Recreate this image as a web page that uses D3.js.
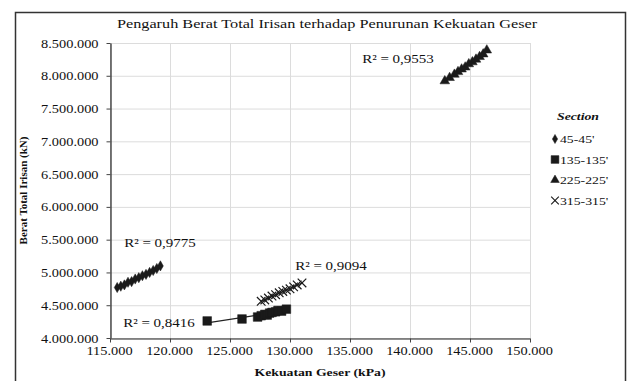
<!DOCTYPE html>
<html>
<head>
<meta charset="utf-8">
<script src="https://cdn.jsdelivr.net/npm/d3@7"></script>
<style>
  html, body { margin: 0; padding: 0; background: #fff; }
  svg { display: block; }
  text { font-family: "Liberation Serif", "Times New Roman", serif; fill: #111; }
</style>
</head>
<body>
<svg id="chart" width="630" height="381"></svg>
<script>
// Shear strength (kPa) and total slice weight (kN) per section
const sections = ["45-45'", "135-135'", "225-225'", "315-315'"];

const shear45 = [115600, 115900, 116200, 116500, 116800, 117100, 117400, 117700, 118000, 118300, 118600, 118900, 119200];
const weight45 = [4770000, 4790000, 4810000, 4850000, 4860000, 4900000, 4920000, 4950000, 4970000, 5000000, 5030000, 5060000, 5100000];

const shear135 = [123100, 126000, 127300, 127600, 127900, 128100, 128300, 128500, 128800, 129000, 129300, 129700];
const weight135 = [4260000, 4290000, 4320000, 4340000, 4360000, 4350000, 4380000, 4390000, 4400000, 4420000, 4410000, 4440000];

const shear225 = [142900, 143300, 143700, 144000, 144300, 144600, 144900, 145200, 145500, 145800, 146100, 146400];
const weight225 = [7920000, 7970000, 8020000, 8060000, 8100000, 8130000, 8180000, 8210000, 8250000, 8290000, 8330000, 8390000];

const shear315 = [127600, 127900, 128200, 128500, 128800, 129100, 129400, 129700, 130000, 130300, 130600, 131000];
const weight315 = [4560000, 4580000, 4610000, 4640000, 4660000, 4690000, 4710000, 4730000, 4750000, 4780000, 4810000, 4840000];

// Coefficients of determination shown beside each trendline
const rSquared = ["0,9775", "0,8416", "0,9553", "0,9094"];

const xTicks = [115000, 120000, 125000, 130000, 135000, 140000, 145000, 150000];
const yTicks = [4000000, 4500000, 5000000, 5500000, 6000000, 6500000, 7000000, 7500000, 8000000, 8500000];

const svg = d3.select("#chart");
const W = 630, H = 381;
const STRETCH = 1.25;   // horizontal widening applied to all upright text

const plot = { left: 110, right: 530, top: 43, bottom: 338 };

const x = d3.scaleLinear().domain([115000, 150000]).range([plot.left, plot.right]);
const y = d3.scaleLinear().domain([4000000, 8500000]).range([plot.bottom, plot.top]);

const idLocale = d3.formatLocale({ decimal: ",", thousands: ".", grouping: [3], currency: ["", ""] });
const fmt = idLocale.format(",d");

// Outer frame
svg.append("rect").attr("x", 0).attr("y", 0).attr("width", W).attr("height", H).attr("fill", "#fff");
svg.append("path")
  .attr("d", `M15.5,${H} V12.5 H625.5 V${H}`)
  .attr("fill", "none").attr("stroke", "#333").attr("stroke-width", 1.5);

// Helper: upright text widened horizontally around its anchor
function label(g, tx, ty, str, opts = {}) {
  return g.append("text")
    .attr("transform", `translate(${tx},${ty}) scale(${STRETCH},1)`)
    .attr("text-anchor", opts.anchor || "start")
    .attr("font-size", opts.size || 12)
    .attr("font-weight", opts.weight || "normal")
    .attr("font-style", opts.style || "normal")
    .text(str);
}

// Gridlines
const grid = svg.append("g");
grid.selectAll("line.v").data(xTicks).join("line")
  .attr("x1", d => x(d) + 0.5).attr("x2", d => x(d) + 0.5)
  .attr("y1", plot.top).attr("y2", plot.bottom)
  .attr("stroke", "#dcdcdc").attr("stroke-width", 1);
grid.selectAll("line.h").data(yTicks).join("line")
  .attr("x1", plot.left).attr("x2", plot.right)
  .attr("y1", d => y(d) + 0.5).attr("y2", d => y(d) + 0.5)
  .attr("stroke", "#dcdcdc").attr("stroke-width", 1);

// Axes
const xAxis = svg.append("g")
  .attr("transform", `translate(0,${plot.bottom + 0.5})`)
  .call(d3.axisBottom(x).tickValues(xTicks).tickFormat(fmt).tickSize(4).tickSizeOuter(0));
const yAxis = svg.append("g")
  .attr("transform", `translate(${plot.left + 0.5},0)`)
  .call(d3.axisLeft(y).tickValues(yTicks).tickFormat(fmt).tickSize(4).tickSizeOuter(0));

[xAxis, yAxis].forEach(a => {
  a.select(".domain").attr("stroke", "#222").attr("stroke-width", 1.2);
  a.selectAll(".tick line").attr("stroke", "#444");
  a.selectAll(".tick text")
    .attr("font-family", "Liberation Serif, Times New Roman, serif")
    .attr("font-size", 11.5).attr("fill", "#111");
});
xAxis.selectAll(".tick text").attr("y", 0).attr("dy", 0)
  .attr("transform", `translate(-1,16) scale(${STRETCH},1)`);
yAxis.selectAll(".tick text").attr("x", 0).attr("dy", 0)
  .attr("transform", `translate(-12,4) scale(${STRETCH},1)`);

// Titles
label(svg, 327, 28, "Pengaruh Berat Total Irisan terhadap Penurunan Kekuatan Geser", { anchor: "middle", size: 13 });
label(svg, 320, 376, "Kekuatan Geser (kPa)", { anchor: "middle", size: 11, weight: "bold" });
svg.append("text")
  .attr("transform", `translate(27,${(plot.top + plot.bottom) / 2}) rotate(-90)`)
  .attr("text-anchor", "middle").attr("font-size", 11).attr("font-weight", "bold")
  .text("Berat Total Irisan (kN)");

// Series
const series = [
  { name: sections[0], xs: shear45, ys: weight45, shape: d3.symbolDiamond, size: 30, r2: rSquared[0] },
  { name: sections[1], xs: shear135, ys: weight135, shape: d3.symbolSquare, size: 75, r2: rSquared[1] },
  { name: sections[2], xs: shear225, ys: weight225, shape: d3.symbolTriangle, size: 40, r2: rSquared[2] },
  { name: sections[3], xs: shear315, ys: weight315, shape: d3.symbolX, size: 50, r2: rSquared[3] }
];

function fit(xs, ys) {
  const mx = d3.mean(xs), my = d3.mean(ys);
  let sxy = 0, sxx = 0;
  xs.forEach((v, i) => { sxy += (v - mx) * (ys[i] - my); sxx += (v - mx) * (v - mx); });
  const b = sxy / sxx;
  return v => my + b * (v - mx);
}

const marks = svg.append("g");
series.forEach(s => {
  const g = marks.append("g");
  // linear trendline across the series' shear range
  const f = fit(s.xs, s.ys);
  const [x0, x1] = d3.extent(s.xs);
  g.append("line")
    .attr("x1", x(x0)).attr("y1", y(f(x0)))
    .attr("x2", x(x1)).attr("y2", y(f(x1)))
    .attr("stroke", "#222").attr("stroke-width", 1.2);
  const pts = s.xs.map((v, i) => [v, s.ys[i]]);
  const isX = s.shape === d3.symbolX;
  g.selectAll("path").data(pts).join("path")
    .attr("transform", d => `translate(${x(d[0])},${y(d[1])})`)
    .attr("d", d3.symbol(s.shape, s.size))
    .attr("fill", isX ? "none" : "#1a1a1a")
    .attr("stroke", "#1a1a1a")
    .attr("stroke-width", isX ? 1.2 : 0.5);
});

// R² annotations
const ann = svg.append("g");
label(ann, 398, 63, "R\u00B2 = " + rSquared[2], { anchor: "middle", size: 12 });
label(ann, 160, 247, "R\u00B2 = " + rSquared[0], { anchor: "middle", size: 12 });
label(ann, 331, 270, "R\u00B2 = " + rSquared[3], { anchor: "middle", size: 12 });
label(ann, 159, 327, "R\u00B2 = " + rSquared[1], { anchor: "middle", size: 12 });

// Legend
const leg = svg.append("g");
label(leg, 578, 120, "Section", { anchor: "middle", size: 11, weight: "bold", style: "italic" });
series.forEach((s, i) => {
  const ly = 143 + i * 20.5;
  leg.append("path")
    .attr("transform", `translate(${555},${ly - 4})`)
    .attr("d", d3.symbol(s.shape, s.size * 0.8))
    .attr("fill", s.shape === d3.symbolX ? "none" : "#1a1a1a")
    .attr("stroke", "#1a1a1a")
    .attr("stroke-width", s.shape === d3.symbolX ? 1.1 : 0.5);
  label(leg, 560, ly, s.name, { size: 11 });
});
</script>
</body>
</html>
